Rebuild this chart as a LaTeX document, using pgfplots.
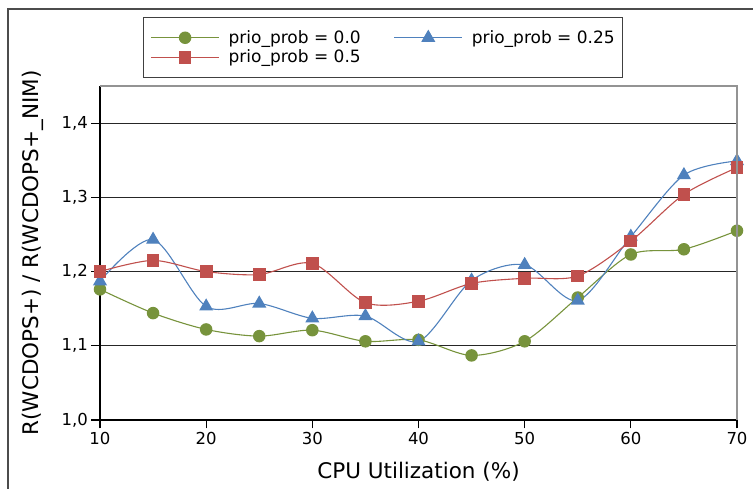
\documentclass[border=0pt]{standalone}
\usepackage{fontspec}
\setmainfont{DejaVu Sans}
\usepackage{pgfplots}
\pgfplotsset{compat=1.18}
\usetikzlibrary{calc}
\definecolor{cgreen}{HTML}{77933C}
\definecolor{cred}{HTML}{C0504D}
\definecolor{cblue}{HTML}{4F81BD}

\begin{document}
\begin{tikzpicture}
\begin{axis}[
  name=ax,
  scale only axis,
  width=637pt, height=334pt,
  xmin=10, xmax=70, ymin=1.0, ymax=1.45,
  axis lines*=left,
  axis line style={black, line width=1.3pt},
  tick align=outside,
  major tick length=8.5pt,
  tick style={black, line width=1.1pt},
  xtick={10,20,...,70},
  ytick={1,1.1,1.2,1.3,1.4},
  ymajorgrids,
  grid style={black!85, line width=1pt},
  /pgf/number format/assume math mode=true,
  yticklabel style={/pgf/number format/.cd, use comma, fixed, fixed zerofill, precision=1},
  tick label style={font=\fontsize{16.5}{19}\selectfont},
  xlabel={CPU Utilization (\%)},
  ylabel={R(WCDOPS+) / R(WCDOPS+\_NIM)},
  every axis x label/.style={at={(axis description cs:0.5,-0.1766)}, anchor=base,
    font=\fontsize{21.5}{25}\selectfont},
  every axis y label/.style={at={(axis description cs:-0.0973,0.5)}, rotate=90, anchor=base,
    font=\fontsize{21.5}{25}\selectfont},
  clip=false,
  legend columns=2,
  legend cell align=left,
  legend style={at={(axis description cs:0.0675,1.2066)}, anchor=north west,
    draw=black!75, line width=1.1pt, inner xsep=7pt, inner ysep=12pt,
    font=\fontsize{17}{20}\selectfont,
    nodes={inner sep=1pt},
    row sep=3pt,
    /tikz/every odd column/.append style={column sep=8pt},
    /tikz/every even column/.append style={column sep=32pt}},
  legend image code/.code={\draw[mark repeat=2, mark phase=2, #1] plot coordinates {(0pt,0pt) (34pt,0pt) (68pt,0pt)};},
]
% prio_prob = 0.0
\addplot[cgreen, line width=1.1pt, smooth, mark=*, mark size=5.7pt,
  mark options={solid, fill=cgreen, draw=cgreen}] coordinates {
  (10,1.176) (15,1.144) (20,1.122) (25,1.113) (30,1.121) (35,1.106) (40,1.108)
  (45,1.087) (50,1.106) (55,1.165) (60,1.223) (65,1.230) (70,1.255)
};
\addlegendentry{prio\_prob = 0.0}
% prio_prob = 0.25
\addplot[cblue, line width=1.1pt, smooth, mark=triangle*, mark size=7pt,
  mark options={solid, fill=cblue, draw=cblue}] coordinates {
  (10,1.187) (15,1.243) (20,1.153) (25,1.157) (30,1.137) (35,1.140) (40,1.106)
  (45,1.188) (50,1.209) (55,1.161) (60,1.247) (65,1.330) (70,1.349)
};
\addlegendentry{prio\_prob = 0.25}
% prio_prob = 0.5
\addplot[cred, line width=1.1pt, smooth, mark=square*, mark size=5.8pt,
  mark options={solid, fill=cred, draw=cred}] coordinates {
  (10,1.200) (15,1.215) (20,1.200) (25,1.196) (30,1.211) (35,1.158) (40,1.160)
  (45,1.184) (50,1.191) (55,1.194) (60,1.241) (65,1.304) (70,1.340)
};
\addlegendentry{prio\_prob = 0.5}
\end{axis}
\draw[gray!85, line width=1.3pt] (ax.north west) -- (ax.north east) -- (ax.south east);
\draw[black!70, line width=1.3pt] ($(ax.south west)+(-92pt,-69pt)$) -- ($(ax.south west)+(-92pt,411pt)$) -- ($(ax.south west)+(653pt,411pt)$);
\pgfresetboundingbox
\path[use as bounding box] ($(ax.south west)+(-100pt,-69pt)$) rectangle ($(ax.south west)+(653pt,420pt)$);
\end{tikzpicture}
\end{document}
